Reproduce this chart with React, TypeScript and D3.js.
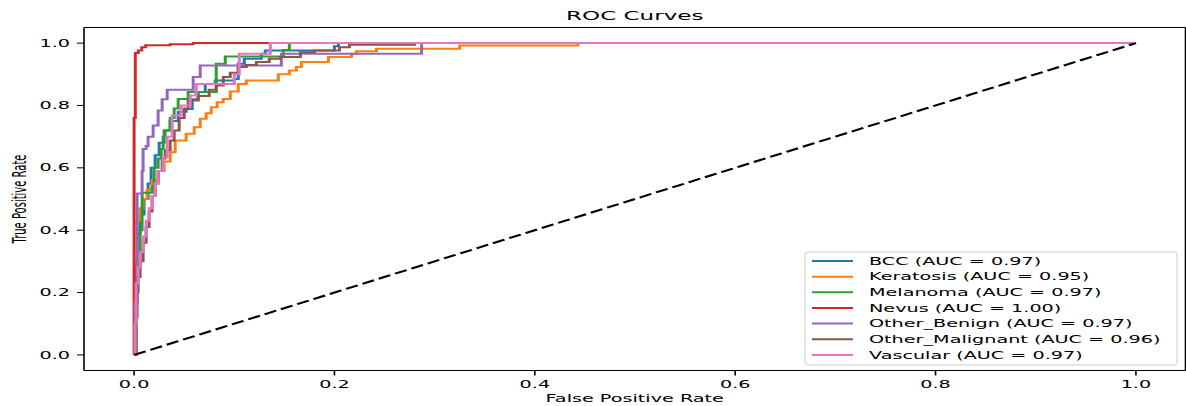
import React from "react";
import * as d3 from "d3";

const classNames = ["BCC", "Keratosis", "Melanoma", "Nevus", "Other_Benign", "Other_Malignant", "Vascular"];
const aucValues = [0.97, 0.95, 0.97, 1.0, 0.97, 0.96, 0.97];

const bccROC = [[0,0],[0.001,0.2],[0.004,0.39],[0.006,0.45],[0.010,0.50],[0.014,0.55],[0.017,0.60],[0.021,0.64],[0.025,0.68],[0.030,0.72],[0.036,0.75],[0.044,0.78],[0.052,0.789],[0.058,0.82],[0.064,0.843],[0.071,0.869],[0.081,0.88],[0.100,0.885],[0.104,0.934],[0.110,0.95],[0.127,0.966],[0.131,0.976],[0.200,0.99],[0.204,1],[1,1]];
const keratosisROC = [[0,0],[0.001,0.3],[0.003,0.43],[0.006,0.47],[0.009,0.50],[0.013,0.53],[0.018,0.56],[0.024,0.59],[0.030,0.62],[0.036,0.65],[0.041,0.688],[0.052,0.709],[0.060,0.73],[0.066,0.757],[0.072,0.775],[0.077,0.794],[0.083,0.81],[0.089,0.821],[0.096,0.845],[0.104,0.869],[0.112,0.88],[0.144,0.90],[0.155,0.912],[0.162,0.923],[0.167,0.939],[0.194,0.955],[0.217,0.966],[0.222,0.974],[0.242,0.982],[0.325,0.992],[0.443,1],[1,1]];
const melanomaROC = [[0,0],[0.002,0.28],[0.006,0.40],[0.008,0.52],[0.018,0.54],[0.020,0.60],[0.024,0.63],[0.027,0.66],[0.029,0.70],[0.031,0.72],[0.036,0.76],[0.040,0.79],[0.044,0.821],[0.054,0.843],[0.082,0.934],[0.091,0.957],[0.149,0.978],[0.155,1],[1,1]];
const nevusROC = [[0,0],[0,0.76],[0.0012,0.968],[0.0042,0.976],[0.0076,0.987],[0.0116,0.993],[0.036,0.996],[0.059,1],[1,1]];
const otherBenignROC = [[0,0],[0.001,0.17],[0.003,0.518],[0.008,0.59],[0.009,0.66],[0.012,0.67],[0.014,0.70],[0.019,0.736],[0.024,0.784],[0.028,0.82],[0.033,0.85],[0.059,0.891],[0.066,0.928],[0.147,0.966],[0.287,1],[1,1]];
const otherMalignantROC = [[0,0],[0.002,0.12],[0.003,0.25],[0.006,0.30],[0.009,0.36],[0.012,0.41],[0.015,0.46],[0.018,0.51],[0.021,0.55],[0.024,0.59],[0.028,0.63],[0.031,0.656],[0.036,0.688],[0.040,0.72],[0.045,0.76],[0.050,0.79],[0.054,0.816],[0.064,0.83],[0.075,0.85],[0.082,0.864],[0.089,0.891],[0.096,0.905],[0.104,0.923],[0.112,0.93],[0.122,0.939],[0.135,0.95],[0.146,0.955],[0.166,0.971],[0.180,0.976],[0.205,0.987],[0.215,0.995],[0.28,1],[1,1]];
const vascularROC = [[0,0],[0.001,0.10],[0.002,0.23],[0.004,0.28],[0.006,0.33],[0.009,0.38],[0.012,0.43],[0.015,0.47],[0.018,0.51],[0.021,0.55],[0.024,0.59],[0.029,0.634],[0.033,0.70],[0.038,0.768],[0.047,0.80],[0.056,0.832],[0.062,0.869],[0.100,0.90],[0.105,0.966],[0.136,1],[1,1]];

const rocSeries = [bccROC, keratosisROC, melanomaROC, nevusROC, otherBenignROC, otherMalignantROC, vascularROC];
const diagonal = [[0, 0], [1, 1]];

const tickValues = [0, 0.2, 0.4, 0.6, 0.8, 1.0];
const tickLabels = ["0.0", "0.2", "0.4", "0.6", "0.8", "1.0"];

const W = 1186, H = 406;
const LEFT = 84, RIGHT = 1186, TOP = 27.5, BOTTOM = 370.5;
const SX = 1.92; // horizontal text stretch
const LS = 1.5; // line horizontal stretch
const FONT = "DejaVu Sans, sans-serif";
const colors = d3.schemeCategory10;

export default function App() {
  const x = d3.scaleLinear().domain([-0.05, 1.05]).range([LEFT, RIGHT]);
  const y = d3.scaleLinear().domain([-0.05, 1.05]).range([BOTTOM, TOP]);
  const line = d3
    .line<number[]>()
    .x((d) => x(d[0]) / LS)
    .y((d) => y(d[1]))
    .curve(d3.curveStepAfter);
  const straight = d3
    .line<number[]>()
    .x((d) => x(d[0]) / LS)
    .y((d) => y(d[1]));

  const spineR = x(1.05) - 0.5;
  const legX = 805, legY = 252, legW = 372, legH = 113;
  const rowY0 = 261, rowStep = 15.65;

  const stretchText = (tx: number, ty: number, txt: string, size: number, anchor: string, key?: string) => (
    <g key={key} transform={`translate(${tx},${ty}) scale(${SX},1)`}>
      <text x={0} y={0} fontSize={size} fontFamily={FONT} textAnchor={anchor} fill="#000">{txt}</text>
    </g>
  );

  return (
    <svg width={W} height={H} style={{ position: "absolute", left: 0, top: 0, background: "#fff" }}>
      <rect x={0} y={0} width={W} height={H} fill="#fff" />
      {/* curves */}
      <g transform={`scale(${LS},1)`}>
        {rocSeries.map((s, i) => (
          <path key={classNames[i]} d={line(s) || ""} fill="none" stroke={colors[i]} strokeWidth={2} strokeLinejoin="miter" strokeLinecap="butt" />
        ))}
        <path d={straight(diagonal) || ""} fill="none" stroke="#000" strokeWidth={2} strokeDasharray="8.5,3.5" />
      </g>
      {/* spines */}
      <line x1={LEFT} x2={LEFT} y1={TOP} y2={BOTTOM} stroke="#000" strokeWidth={1.6} />
      <line x1={spineR} x2={spineR} y1={TOP} y2={BOTTOM} stroke="#000" strokeWidth={1.6} />
      <line x1={LEFT} x2={spineR} y1={TOP} y2={TOP} stroke="#000" strokeWidth={1} />
      <line x1={LEFT} x2={spineR} y1={BOTTOM} y2={BOTTOM} stroke="#000" strokeWidth={1} />
      {/* x ticks */}
      {tickValues.map((t, i) => (
        <g key={"xt" + i}>
          <line x1={x(t)} x2={x(t)} y1={BOTTOM} y2={BOTTOM + 5} stroke="#000" strokeWidth={1.6} />
          {stretchText(x(t), 387.5, tickLabels[i], 10, "middle")}
        </g>
      ))}
      {/* y ticks */}
      {tickValues.map((t, i) => (
        <g key={"yt" + i}>
          <line x1={LEFT - 7} x2={LEFT} y1={y(t)} y2={y(t)} stroke="#000" strokeWidth={1} />
          {stretchText(70, y(t) + 3.6, tickLabels[i], 10, "end")}
        </g>
      ))}
      {/* labels */}
      {stretchText((LEFT + spineR) / 2, 20, "ROC Curves", 12, "middle")}
      {stretchText((LEFT + spineR) / 2, 402, "False Positive Rate", 10, "middle")}
      <g transform={`translate(26,199) scale(${SX},1) rotate(-90)`}>
        <text x={0} y={0} fontSize={10} fontFamily={FONT} textAnchor="middle" fill="#000">True Positive Rate</text>
      </g>
      {/* legend */}
      <rect x={legX} y={legY} width={legW} height={legH} rx={3} fill="#fff" fillOpacity={0.8} stroke="#cccccc" strokeWidth={1} />
      {classNames.map((c, i) => (
        <g key={"lg" + c}>
          <line x1={812} x2={853} y1={rowY0 + i * rowStep} y2={rowY0 + i * rowStep} stroke={colors[i]} strokeWidth={2} />
          {stretchText(869, rowY0 + i * rowStep + 3.6, `${c} (AUC = ${aucValues[i].toFixed(2)})`, 10, "start")}
        </g>
      ))}
    </svg>
  );
}
